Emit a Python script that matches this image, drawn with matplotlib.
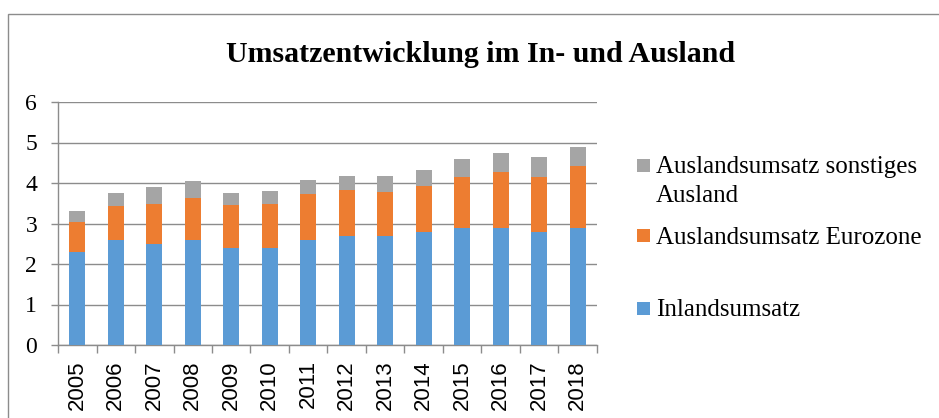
import matplotlib
matplotlib.use("Agg")
import matplotlib.pyplot as plt
from matplotlib.patches import Rectangle
import numpy as np

years = ["2005", "2006", "2007", "2008", "2009", "2010", "2011",
         "2012", "2013", "2014", "2015", "2016", "2017", "2018"]
inland = [2.3, 2.6, 2.5, 2.6, 2.4, 2.4, 2.6, 2.7, 2.7, 2.8, 2.9, 2.9, 2.8, 2.9]
eurozone = [0.73, 0.83, 0.99, 1.04, 1.05, 1.07, 1.14, 1.13, 1.09, 1.13, 1.25, 1.38, 1.36, 1.51]
sonstiges = [0.28, 0.32, 0.40, 0.41, 0.30, 0.33, 0.33, 0.35, 0.38, 0.38, 0.44, 0.47, 0.48, 0.47]

labels = ["Inlandsumsatz", "Auslandsumsatz Eurozone", "Auslandsumsatz sonstiges\nAusland"]
colors = ["#5B9BD5", "#ED7D31", "#A5A5A5"]

plt.rcParams['font.family'] = ['Liberation Serif', 'DejaVu Serif']

W, H = 939, 418
fig = plt.figure(figsize=(W / 100, H / 100), dpi=100)
ax = fig.add_axes([58 / W, 1 - 345 / H, (597 - 58) / W, (345 - 102) / H])

x = np.arange(len(years))
w = 0.41
ax.bar(x, inland, w, color=colors[0], zorder=3)
ax.bar(x, eurozone, w, bottom=inland, color=colors[1], zorder=3)
bot = np.array(inland) + np.array(eurozone)
ax.bar(x, sonstiges, w, bottom=bot, color=colors[2], zorder=3)

ax.set_xlim(-0.5, len(years) - 0.5)
ax.set_ylim(0, 6)
ax.set_yticks(range(0, 7))
ax.yaxis.grid(True, color="#8C8C8C", linewidth=1.0, zorder=0)
ax.set_axisbelow(True)

ax.set_xticks(x)
ax.set_xticklabels(years, rotation=90, fontsize=16, family=['Liberation Sans', 'DejaVu Sans'])
ax.tick_params(axis='x', length=0, pad=11)
ax.set_xticks(np.arange(-0.5, len(years)), minor=True)
ax.tick_params(axis='x', which='minor', length=6, color="#8C8C8C", width=1)
ax.tick_params(axis='y', labelsize=17, length=5, color="#8C8C8C", width=1, pad=10)

for s in ["top", "right"]:
    ax.spines[s].set_visible(False)
for s in ["left", "bottom"]:
    ax.spines[s].set_color("#8C8C8C")
    ax.spines[s].set_linewidth(1.0)

fig.text(480 / W, 1 - 62 / H, "Umsatzentwicklung im In- und Ausland",
         ha="center", va="baseline", fontsize=21.5, fontweight="bold")

# legend (drawn in legend order: sonstiges, Eurozone, Inland)
leg_items = [
    (colors[2], ["Auslandsumsatz sonstiges", "Ausland"], 159, [173, 202]),
    (colors[1], [labels[1]], 229, [244]),
    (colors[0], [labels[0]], 302, [316]),
]
for col, lines, sq_top, baselines in leg_items:
    fig.patches.append(Rectangle((637 / W, 1 - (sq_top + 13) / H), 13 / W, 13 / H,
                                 transform=fig.transFigure, facecolor=col, edgecolor="none"))
    for line, bl in zip(lines, baselines):
        fig.text(656 / W, 1 - bl / H, line, ha="left", va="baseline", fontsize=18)

fig.patches.append(Rectangle((8 / W, -0.1), 1.2, 1 - 14 / H + 0.1, transform=fig.transFigure,
                             fill=False, edgecolor="#8C8C8C", linewidth=1.0))

fig.savefig("out.png", dpi=100)
